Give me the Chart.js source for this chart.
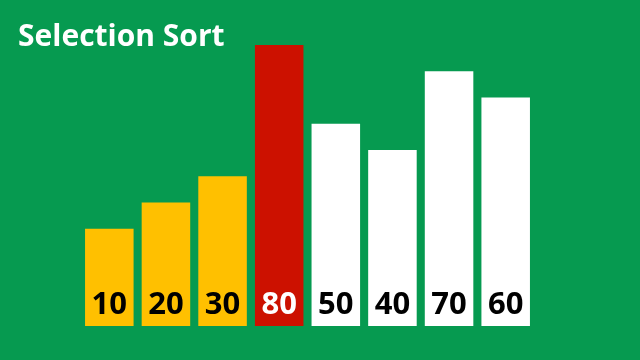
<!DOCTYPE html>
<html>
<head>
<meta charset="utf-8">
<script src="https://cdn.jsdelivr.net/npm/chart.js@4/dist/chart.umd.min.js"></script>
<style>
  html, body { margin: 0; padding: 0; background: #069a50; }
  canvas { display: block; background: #069a50; }
</style>
</head>
<body>
<canvas id="sortChart" width="640" height="360"></canvas>
<script>
// array state during one selection sort step
var titleText = 'Selection Sort';
var positions = ['1', '2', '3', '4', '5', '6', '7', '8'];
var values = [10, 20, 30, 80, 50, 40, 70, 60];
var states = ['sorted', 'sorted', 'sorted', 'current', 'unsorted', 'unsorted', 'unsorted', 'unsorted'];

var fillFor = { sorted: '#ffc000', current: '#cc1100', unsorted: '#ffffff' };
var textFor = { sorted: '#000000', current: '#ffffff', unsorted: '#000000' };

var labelPlugin = {
  id: 'barLabels',
  afterDatasetsDraw: function (chart) {
    var ctx = chart.ctx;
    var meta = chart.getDatasetMeta(0);
    ctx.save();
    ctx.font = 'bold 31px "Open Sans"';
    ctx.textAlign = 'center';
    ctx.textBaseline = 'alphabetic';
    meta.data.forEach(function (bar, i) {
      ctx.fillStyle = textFor[states[i]];
      ctx.fillText(String(values[i]), bar.x, bar.base - 12);
    });
    // title in the top left corner
    ctx.font = 'bold 30px "Open Sans"';
    ctx.fillStyle = '#ffffff';
    ctx.textAlign = 'left';
    ctx.fillText(titleText, 18, 46);
    ctx.restore();
  }
};

var ctx = document.getElementById('sortChart').getContext('2d');
var chart = new Chart(ctx, {
  type: 'bar',
  data: {
    labels: positions,
    datasets: [{
      data: values,
      base: -27,
      backgroundColor: states.map(function (s) { return fillFor[s]; }),
      borderWidth: 0,
      categoryPercentage: 1,
      barPercentage: 0.857
    }]
  },
  options: {
    responsive: false,
    animation: false,
    devicePixelRatio: 1,
    layout: { padding: { left: 81, right: 106, top: 45, bottom: 34 } },
    plugins: {
      legend: { display: false },
      tooltip: { enabled: false }
    },
    scales: {
      x: { display: false },
      y: { display: false, min: -27, max: 80 }
    }
  },
  plugins: [labelPlugin]
});
</script>
</body>
</html>
